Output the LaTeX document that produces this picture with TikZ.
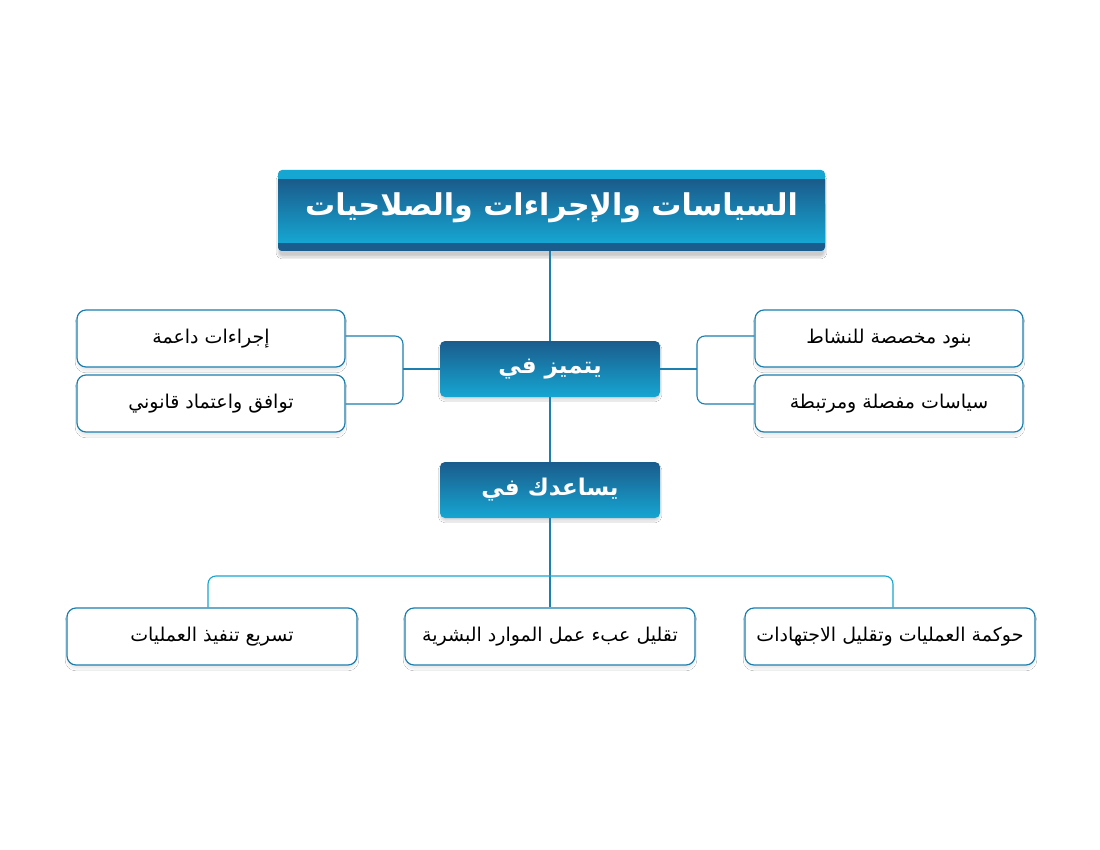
\documentclass[tikz,border=0pt]{standalone}
\usepackage{fontspec}
\newfontfamily\arabicfont[Script=Arabic]{DejaVu Sans}
\TeXXeTstate=1
\usetikzlibrary{shadows.blur}
\definecolor{dk}{HTML}{1A5C8C}
\definecolor{cy}{HTML}{16A6D2}
\definecolor{mid}{HTML}{1B7FB0}
\tikzset{
  hdr/.style={rounded corners=5pt, top color=dk, bottom color=cy, draw=none,
    minimum width=220pt, minimum height=56pt, text=white, font=\arabicfont\fontsize{23}{28}\selectfont\bfseries,
    blur shadow={shadow blur steps=8, shadow xshift=0pt, shadow yshift=-3pt, shadow opacity=15, shadow blur extra rounding=3pt}},
  item/.style={rounded corners=9pt, draw=mid, line width=1.2pt, fill=white,
    minimum height=57pt, font=\arabicfont\fontsize{19}{22}\selectfont, text=black,
    blur shadow={shadow blur steps=8, shadow xshift=0pt, shadow yshift=-4pt, shadow opacity=8, shadow blur extra rounding=4pt}},
  conn/.style={draw=mid, line width=1.1pt, rounded corners=8pt}
}
\begin{document}
\begin{tikzpicture}[x=1pt,y=-1pt]
\useasboundingbox[fill=white] (0,0) rectangle (1100,850);
% title
\path[blur shadow={shadow blur steps=10, shadow xshift=0pt, shadow yshift=-6pt, shadow opacity=20}, rounded corners=4pt] (278,170) rectangle (825,251);
\fill[cy, rounded corners=4pt] (278,170) rectangle (825,251);
\fill[dk, rounded corners=4pt] (278,200) rectangle (825,251);
\shade[top color=dk, bottom color=cy] (278,180) rectangle (825,243);
\node[text=white, font=\arabicfont\fontsize{30}{36}\selectfont\bfseries] (title) at (551.5,208) {\beginR السياسات والإجراءات والصلاحيات\endR};
\coordinate (tb) at (550,251);
% headers
\node[hdr] (h1) at (550,369) {\beginR يتميز في\endR};
\node[hdr] (h2) at (550,490) {\beginR يساعدك في\endR};
% side items
\node[item, minimum width=268pt] (l1) at (211,338.5) {\beginR إجراءات داعمة\endR};
\node[item, minimum width=268pt] (l2) at (211,403.5) {\beginR توافق واعتماد قانوني\endR};
\node[item, minimum width=268pt] (r1) at (889,338.5) {\beginR بنود مخصصة للنشاط\endR};
\node[item, minimum width=268pt] (r2) at (889,403.5) {\beginR سياسات مفصلة ومرتبطة\endR};
% bottom items
\node[item, minimum width=290pt] (b1) at (212,636.5) {\beginR تسريع تنفيذ العمليات\endR};
\node[item, minimum width=290pt] (b2) at (550,636.5) {\beginR تقليل عبء عمل الموارد البشرية\endR};
\node[item, minimum width=290pt] (b3) at (890,636.5) {\beginR حوكمة العمليات وتقليل الاجتهادات\endR};
% connectors
\draw[conn] (tb) -- (h1.north);
\draw[conn] (h1.south) -- (h2.north);
\draw[conn] (l1.east |- 0,336) -| (403,369) |- (l2.east |- 0,404);
\draw[conn] (403,369) -- (h1.west);
\draw[conn] (r1.west |- 0,336) -| (697,369) |- (r2.west |- 0,404);
\draw[conn] (697,369) -- (h1.east);
\draw[conn] (h2.south) -- (b2.north);
\draw[conn, draw=cy] (b1.north -| 208,0) |- (550,576) -| (b3.north -| 893,0);
\end{tikzpicture}
\end{document}
